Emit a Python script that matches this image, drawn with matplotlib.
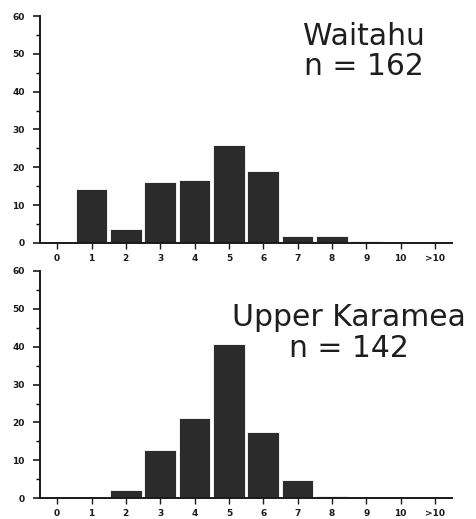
import numpy as np
import matplotlib.pyplot as plt

# Frequency histograms (% of individuals) for two river sites
classes = ["0", "1", "2", "3", "4", "5", "6", "7", "8", "9", "10", ">10"]
waitahu_pct = [0, 14.2, 3.7, 16.0, 16.7, 25.9, 19.1, 1.9, 1.9, 0.6, 0, 0]
karamea_pct = [0, 0, 2.1, 12.7, 21.1, 40.8, 17.6, 4.9, 0.7, 0, 0, 0]
sites = ["Waitahu\nn = 162", "Upper Karamea\nn = 142"]

bar_col = "#2b2b2b"
fig = plt.figure(figsize=(4.76, 5.19), dpi=100)
ax1 = fig.add_axes([0.084, 0.532, 0.866, 0.437])
ax2 = fig.add_axes([0.084, 0.040, 0.866, 0.438])

x = np.arange(len(classes))


def draw(ax, vals, label, lx, ly):
    ax.bar(x, vals, width=0.92, color=bar_col, edgecolor="white", linewidth=0.6)
    ax.set_xlim(-0.5, 11.5)
    ax.set_ylim(0, 60)
    ax.set_yticks(range(0, 61, 10))
    ax.set_yticks(range(5, 60, 10), minor=True)
    ax.set_xticks(x)
    ax.set_xticklabels(classes)
    for s in ["top", "right"]:
        ax.spines[s].set_visible(False)
    for s in ["left", "bottom"]:
        ax.spines[s].set_linewidth(1.4)
        ax.spines[s].set_color("#1a1a1a")
    ax.tick_params(axis="y", which="major", length=5, width=1.2, pad=6,
                   labelsize=6.5, colors="#1a1a1a")
    ax.tick_params(axis="y", which="minor", length=3, width=1.0)
    ax.tick_params(axis="x", length=4, width=1.0, pad=4, labelsize=6.5,
                   colors="#1a1a1a")
    for t in ax.get_xticklabels() + ax.get_yticklabels():
        t.set_fontweight("bold")
    l1, l2 = label.split("\n")
    ax.text(lx, ly, l1, ha="center", va="baseline", fontsize=21.5,
            color="#1e1e1e")
    ax.text(lx, ly - 8, l2, ha="center", va="baseline", fontsize=21.5,
            color="#1e1e1e")


draw(ax1, waitahu_pct, sites[0], 8.92, 52.4)
draw(ax2, karamea_pct, sites[1], 8.49, 45.4)

fig.savefig("out.png", dpi=100)
